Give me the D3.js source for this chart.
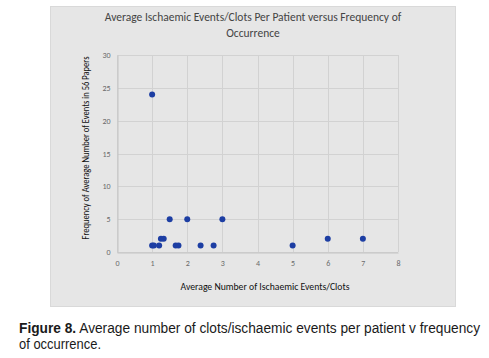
<!DOCTYPE html>
<html><head><meta charset="utf-8">
<script src="https://cdn.jsdelivr.net/npm/d3@7"></script>
<style>
body{margin:0;background:#fff;}
svg{display:block;}
</style></head>
<body>
<svg id="chart" width="489" height="358"></svg>
<script>
const xValues = [1, 1, 1.05, 1.2, 1.25, 1.33, 1.5, 1.67, 1.75, 2, 2.38, 2.75, 3, 5, 6, 7];
const yValues = [24, 1, 1, 1, 2, 2, 5, 1, 1, 5, 1, 1, 5, 1, 2, 2];
const xTicks = [0, 1, 2, 3, 4, 5, 6, 7, 8];
const yTicks = [0, 5, 10, 15, 20, 25, 30];
const titleLines = ["Average Ischaemic Events/Clots Per Patient versus Frequency of", "Occurrence"];
const xLabel = "Average Number of Ischaemic Events/Clots";
const yLabel = "Frequency of Average Number of Events in 56 Papers";

const svg = d3.select("#chart");
const font = "Carlito, Lato, 'Open Sans', sans-serif";

svg.append("rect").attr("x", 50.5).attr("y", 6.5).attr("width", 405).attr("height", 300)
  .attr("fill", "#e6e6e6").attr("stroke", "#d9d9d9");

const x = d3.scaleLinear().domain([0, 8]).range([117, 398]);
const y = d3.scaleLinear().domain([0, 30]).range([252, 55]);

// gridlines
svg.append("g").selectAll("line.v").data(xTicks).join("line")
  .attr("x1", d => Math.round(x(d)) + 0.5).attr("x2", d => Math.round(x(d)) + 0.5)
  .attr("y1", y(30)).attr("y2", y(0)).attr("stroke", "#d2d2d2");
svg.append("g").selectAll("line.h").data(yTicks).join("line")
  .attr("x1", x(0)).attr("x2", x(8))
  .attr("y1", d => Math.round(y(d)) + 0.5).attr("y2", d => Math.round(y(d)) + 0.5).attr("stroke", "#d2d2d2");

// axes
const xAxis = svg.append("g").attr("transform", `translate(0,${Math.round(y(0)) + 0.5})`)
  .call(d3.axisBottom(x).tickValues(xTicks).tickSize(0).tickPadding(8));
const yAxis = svg.append("g").attr("transform", `translate(${Math.round(x(0)) + 0.5},0)`)
  .call(d3.axisLeft(y).tickValues(yTicks).tickSize(0).tickPadding(7));
[xAxis, yAxis].forEach(a => {
  a.select(".domain").attr("stroke", "#c4c4c4");
  a.selectAll("text").attr("fill", "#6a6a6a").style("font-family", font).style("font-size", "8px");
});

// points
svg.append("g").selectAll("circle").data(xValues.map((v, i) => [v, yValues[i]])).join("circle")
  .attr("cx", d => x(d[0])).attr("cy", d => y(d[1])).attr("r", 3)
  .attr("fill", "#1d3ea3");

// title
svg.append("text").attr("x", 253).attr("y", 21).attr("text-anchor", "middle")
  .attr("fill", "#444").style("font-family", font).style("font-size", "11.5px")
  .selectAll("tspan").data(titleLines).join("tspan")
  .attr("x", 253).attr("dy", (d, i) => i ? 16 : 0).text(d => d);

// axis labels
svg.append("text").attr("x", 265).attr("y", 290).attr("text-anchor", "middle")
  .attr("fill", "#111").style("font-family", font).style("font-size", "9.5px")
  .attr("textLength", 169).attr("lengthAdjust", "spacingAndGlyphs").text(xLabel);
svg.append("text").attr("transform", "translate(89,148) rotate(-90)").attr("text-anchor", "middle")
  .attr("fill", "#111").style("font-family", font).style("font-size", "9.5px")
  .attr("textLength", 183).attr("lengthAdjust", "spacingAndGlyphs").text(yLabel);

// caption
const capFont = "'Liberation Sans Narrow', 'Arial Narrow', 'Liberation Sans', sans-serif";
const cap = svg.append("text").attr("x", 19).attr("y", 333)
  .style("font-family", capFont).style("font-size", "14px")
  .attr("fill", "#1a1a1a").attr("textLength", 461).attr("lengthAdjust", "spacingAndGlyphs");
cap.append("tspan").attr("font-weight", "bold").text("Figure 8.");
cap.append("tspan").text(" Average number of clots/ischaemic events per patient v frequency");
svg.append("text").attr("x", 19).attr("y", 349)
  .style("font-family", capFont).style("font-size", "14px")
  .attr("fill", "#1a1a1a").attr("textLength", 82).attr("lengthAdjust", "spacingAndGlyphs")
  .text("of occurrence.");
</script>
</body></html>
